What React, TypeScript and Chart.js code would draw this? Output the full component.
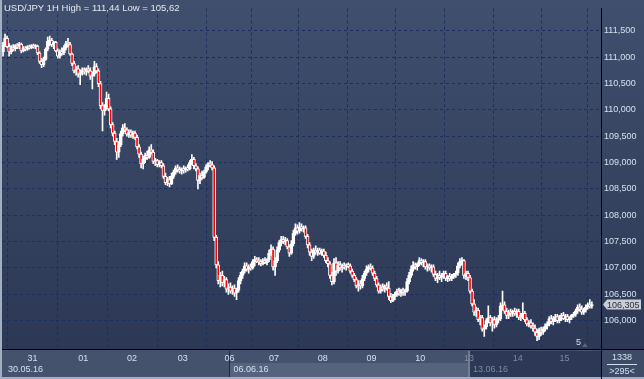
import React, { useEffect, useRef } from 'react';
import { Chart, registerables } from 'chart.js';

Chart.register(...registerables);

const TITLE = 'USD/JPY 1H High = 111,44 Low = 105,62';
const dayLabels = ['31', '01', '02', '03', '06', '07', '08', '09', '10', '13', '14', '15'];
const dayStartIdx = [15, 40, 64, 89, 112, 134, 158, 182, 206, 230, 254, 277];
const weekLabels = ['30.05.16', '06.06.16', '13.06.16'];
const weekStartIdx = [0, 112, 230];
const yTicks = [106, 106.5, 107, 107.5, 108, 108.5, 109, 109.5, 110, 110.5, 111, 111.5];
const visibleBars = 295;
const barCountText = '1338';
const visibleText = '>295<';
const markerText = '5';
const lastPrice = 106.305;

// [open, high, low, close] per hourly bar
const candles: number[][] = [
  // 30.05
  [111.10, 111.28, 111.02, 111.24], [111.24, 111.44, 111.20, 111.36], [111.36, 111.40, 111.18, 111.20],
  [111.20, 111.26, 111.02, 111.10], [111.10, 111.22, 111.06, 111.18], [111.18, 111.24, 111.12, 111.16],
  [111.16, 111.24, 111.12, 111.22], [111.22, 111.26, 111.16, 111.20], [111.20, 111.28, 111.16, 111.25],
  [111.25, 111.27, 111.08, 111.12], [111.12, 111.20, 111.10, 111.17], [111.17, 111.20, 111.12, 111.15],
  [111.15, 111.22, 111.13, 111.20], [111.20, 111.23, 111.15, 111.18], [111.18, 111.24, 111.16, 111.22],
  // 31
  [111.22, 111.25, 111.17, 111.20], [111.20, 111.24, 111.16, 111.21], [111.21, 111.23, 111.05, 111.08],
  [111.08, 111.10, 110.88, 110.92], [110.92, 110.98, 110.80, 110.86], [110.86, 111.00, 110.82, 110.96],
  [110.96, 111.18, 110.94, 111.15], [111.15, 111.38, 111.12, 111.30], [111.30, 111.40, 111.22, 111.32],
  [111.32, 111.36, 111.20, 111.24], [111.24, 111.30, 111.16, 111.28], [111.28, 111.30, 111.10, 111.12],
  [111.12, 111.16, 110.98, 111.02], [111.02, 111.14, 110.98, 111.10], [111.10, 111.18, 111.04, 111.08],
  [111.08, 111.22, 111.05, 111.18], [111.18, 111.30, 111.14, 111.26], [111.26, 111.36, 111.20, 111.24],
  [111.24, 111.28, 111.04, 111.06], [111.06, 111.08, 110.84, 110.88], [110.88, 110.92, 110.70, 110.74],
  [110.74, 110.82, 110.66, 110.78], [110.78, 110.84, 110.62, 110.68], [110.68, 110.76, 110.48, 110.72],
  [110.72, 110.80, 110.66, 110.76],
  // 01
  [110.76, 110.80, 110.68, 110.72], [110.72, 110.80, 110.66, 110.78], [110.78, 110.84, 110.70, 110.74],
  [110.74, 110.80, 110.58, 110.64], [110.64, 110.72, 110.40, 110.68], [110.68, 110.92, 110.64, 110.82],
  [110.82, 110.88, 110.70, 110.74], [110.74, 110.78, 110.44, 110.50], [110.50, 110.54, 110.02, 110.08],
  [110.08, 110.14, 109.60, 109.98], [109.98, 110.10, 109.90, 110.04], [110.04, 110.34, 110.00, 110.22],
  [110.22, 110.30, 109.98, 110.02], [110.02, 110.06, 109.66, 109.72], [109.72, 109.76, 109.50, 109.56],
  [109.56, 109.60, 109.34, 109.40], [109.40, 109.46, 109.06, 109.20], [109.20, 109.40, 109.10, 109.34],
  [109.34, 109.60, 109.30, 109.55], [109.55, 109.72, 109.50, 109.66], [109.66, 109.74, 109.58, 109.62],
  [109.62, 109.66, 109.50, 109.54], [109.54, 109.62, 109.48, 109.58], [109.58, 109.62, 109.48, 109.52],
  // 02
  [109.52, 109.60, 109.46, 109.56], [109.56, 109.60, 109.44, 109.48], [109.48, 109.52, 109.26, 109.30],
  [109.30, 109.34, 109.10, 109.16], [109.16, 109.20, 108.90, 108.98], [108.98, 109.12, 108.88, 109.06],
  [109.06, 109.18, 109.00, 109.14], [109.14, 109.22, 109.06, 109.10], [109.10, 109.30, 109.08, 109.24],
  [109.24, 109.34, 109.16, 109.20], [109.20, 109.24, 108.98, 109.02], [109.02, 109.08, 108.94, 109.04],
  [109.04, 109.06, 108.92, 108.96], [108.96, 109.04, 108.92, 109.00], [109.00, 109.04, 108.90, 108.94],
  [108.94, 108.98, 108.70, 108.74], [108.74, 108.80, 108.58, 108.62], [108.62, 108.72, 108.56, 108.68],
  [108.68, 108.74, 108.54, 108.60], [108.60, 108.80, 108.58, 108.74], [108.74, 108.86, 108.70, 108.82],
  [108.82, 108.94, 108.78, 108.90], [108.90, 108.96, 108.82, 108.86], [108.86, 108.92, 108.80, 108.84],
  [108.84, 108.90, 108.78, 108.88],
  // 03
  [108.88, 108.94, 108.80, 108.86], [108.86, 108.92, 108.82, 108.90], [108.90, 108.96, 108.84, 108.88],
  [108.88, 109.04, 108.86, 109.00], [109.00, 109.15, 108.96, 109.06], [109.06, 109.10, 108.88, 108.94],
  [108.94, 108.98, 108.84, 108.88], [108.88, 108.92, 108.50, 108.66], [108.66, 108.80, 108.60, 108.76],
  [108.76, 108.84, 108.68, 108.72], [108.72, 108.86, 108.70, 108.82], [108.82, 108.96, 108.80, 108.92],
  [108.92, 109.00, 108.86, 108.98], [108.98, 109.04, 108.92, 108.96], [108.96, 109.02, 108.86, 108.90],
  [108.90, 108.94, 107.52, 107.58], [107.58, 107.62, 107.00, 107.06], [107.06, 107.12, 106.70, 106.76],
  [106.76, 106.92, 106.64, 106.86], [106.86, 106.94, 106.66, 106.72], [106.72, 106.84, 106.64, 106.78],
  [106.78, 106.82, 106.54, 106.60], [106.60, 106.70, 106.50, 106.64],
  // 06
  [106.64, 106.72, 106.52, 106.56], [106.56, 106.66, 106.50, 106.62], [106.62, 106.68, 106.46, 106.52],
  [106.52, 106.62, 106.40, 106.58], [106.58, 106.82, 106.54, 106.76], [106.76, 106.92, 106.70, 106.86],
  [106.86, 106.98, 106.80, 106.94], [106.94, 107.10, 106.90, 107.04], [107.04, 107.10, 106.94, 106.98],
  [106.98, 107.06, 106.90, 107.02], [107.02, 107.08, 106.96, 107.00], [107.00, 107.16, 106.98, 107.12],
  [107.12, 107.22, 107.04, 107.16], [107.16, 107.20, 107.10, 107.14], [107.14, 107.20, 107.06, 107.12],
  [107.12, 107.16, 107.04, 107.08], [107.08, 107.18, 107.06, 107.14], [107.14, 107.20, 107.08, 107.10],
  [107.10, 107.18, 107.06, 107.16], [107.16, 107.34, 107.12, 107.28], [107.28, 107.44, 107.24, 107.36],
  [107.36, 107.40, 106.96, 107.02],
  // 07
  [107.02, 107.20, 106.86, 107.14], [107.14, 107.40, 107.10, 107.34], [107.34, 107.52, 107.30, 107.48],
  [107.48, 107.60, 107.42, 107.54], [107.54, 107.60, 107.46, 107.50], [107.50, 107.58, 107.44, 107.52],
  [107.52, 107.56, 107.36, 107.40], [107.40, 107.44, 107.22, 107.28], [107.28, 107.52, 107.26, 107.46],
  [107.46, 107.72, 107.42, 107.66], [107.66, 107.84, 107.62, 107.76], [107.76, 107.82, 107.64, 107.70],
  [107.70, 107.86, 107.66, 107.78], [107.78, 107.84, 107.70, 107.74], [107.74, 107.80, 107.68, 107.76],
  [107.76, 107.80, 107.56, 107.60], [107.60, 107.64, 107.38, 107.44], [107.44, 107.48, 107.24, 107.30],
  [107.30, 107.36, 107.14, 107.22], [107.22, 107.38, 107.18, 107.34], [107.34, 107.42, 107.26, 107.30],
  [107.30, 107.38, 107.24, 107.34], [107.34, 107.38, 107.26, 107.28], [107.28, 107.36, 107.24, 107.32],
  // 08
  [107.32, 107.36, 107.20, 107.24], [107.24, 107.30, 107.10, 107.14], [107.14, 107.20, 107.02, 107.08],
  [107.08, 107.12, 106.80, 106.86], [106.86, 106.92, 106.68, 106.74], [106.74, 107.18, 106.70, 107.10],
  [107.10, 107.20, 106.86, 106.94], [106.94, 107.12, 106.90, 107.06], [107.06, 107.12, 106.96, 107.00],
  [107.00, 107.08, 106.92, 107.04], [107.04, 107.10, 106.98, 107.02], [107.02, 107.08, 106.96, 107.06],
  [107.06, 107.10, 107.00, 107.04], [107.04, 107.08, 106.90, 106.94], [106.94, 106.98, 106.82, 106.86],
  [106.86, 106.90, 106.74, 106.78], [106.78, 106.82, 106.62, 106.66], [106.66, 106.76, 106.56, 106.70],
  [106.70, 106.76, 106.60, 106.66], [106.66, 106.86, 106.62, 106.80], [106.80, 106.94, 106.76, 106.90],
  [106.90, 107.04, 106.86, 106.98], [106.98, 107.06, 106.92, 107.02], [107.02, 107.08, 106.96, 107.00],
  // 09
  [107.00, 107.04, 106.86, 106.90], [106.90, 106.94, 106.76, 106.80], [106.80, 106.84, 106.64, 106.68],
  [106.68, 106.72, 106.52, 106.56], [106.56, 106.68, 106.52, 106.64], [106.64, 106.70, 106.56, 106.60],
  [106.60, 106.68, 106.54, 106.66], [106.66, 106.72, 106.58, 106.62], [106.62, 106.74, 106.40, 106.46],
  [106.46, 106.52, 106.34, 106.38], [106.38, 106.50, 106.36, 106.46], [106.46, 106.54, 106.40, 106.50],
  [106.50, 106.60, 106.46, 106.56], [106.56, 106.62, 106.48, 106.52], [106.52, 106.60, 106.46, 106.58],
  [106.58, 106.62, 106.48, 106.54], [106.54, 106.60, 106.48, 106.56], [106.56, 106.80, 106.54, 106.74],
  [106.74, 106.92, 106.70, 106.86], [106.86, 107.04, 106.82, 106.98], [106.98, 107.12, 106.94, 107.06],
  [107.06, 107.10, 106.98, 107.02], [107.02, 107.10, 106.96, 107.08], [107.08, 107.20, 107.04, 107.14],
  // 10
  [107.14, 107.18, 107.06, 107.10], [107.10, 107.16, 107.02, 107.12], [107.12, 107.16, 106.98, 107.02],
  [107.02, 107.08, 106.94, 107.04], [107.04, 107.08, 106.96, 107.00], [107.00, 107.06, 106.92, 107.02],
  [107.02, 107.06, 106.84, 106.88], [106.88, 106.94, 106.76, 106.80], [106.80, 106.90, 106.72, 106.86],
  [106.86, 106.94, 106.78, 106.82], [106.82, 106.90, 106.74, 106.86], [106.86, 106.94, 106.80, 106.90],
  [106.90, 106.94, 106.76, 106.80], [106.80, 106.86, 106.74, 106.84], [106.84, 106.90, 106.76, 106.80],
  [106.80, 106.88, 106.76, 106.84], [106.84, 106.90, 106.80, 106.88], [106.88, 106.94, 106.82, 106.90],
  [106.90, 107.10, 106.86, 107.04], [107.04, 107.18, 107.00, 107.12], [107.12, 107.20, 107.06, 107.14],
  [107.14, 107.16, 106.80, 106.86], [106.86, 106.94, 106.78, 106.90], [106.90, 106.94, 106.76, 106.82],
  // 13
  [106.82, 106.86, 106.52, 106.56], [106.56, 106.60, 106.28, 106.32], [106.32, 106.40, 106.10, 106.16],
  [106.16, 106.26, 106.08, 106.20], [106.20, 106.24, 105.98, 106.02], [106.02, 106.10, 105.92, 106.06],
  [106.06, 106.10, 105.80, 105.84], [105.84, 105.92, 105.70, 105.88], [105.88, 106.04, 105.84, 106.00],
  [106.00, 106.28, 105.96, 106.06], [106.06, 106.10, 105.90, 105.96], [105.96, 106.06, 105.80, 106.02],
  [106.02, 106.08, 105.86, 105.92], [105.92, 106.06, 105.88, 106.02], [106.02, 106.10, 105.96, 106.04],
  [106.04, 106.34, 106.00, 106.28], [106.28, 106.56, 106.20, 106.30], [106.30, 106.36, 106.14, 106.18],
  [106.18, 106.24, 106.04, 106.10], [106.10, 106.20, 106.04, 106.16], [106.16, 106.22, 106.08, 106.14],
  [106.14, 106.20, 106.08, 106.18], [106.18, 106.24, 106.10, 106.14], [106.14, 106.22, 106.06, 106.18],
  // 14
  [106.18, 106.22, 106.02, 106.06], [106.06, 106.14, 106.00, 106.10], [106.10, 106.34, 106.04, 106.14],
  [106.14, 106.18, 105.98, 106.02], [106.02, 106.06, 105.90, 105.94], [105.94, 106.00, 105.88, 105.96],
  [105.96, 106.02, 105.86, 105.90], [105.90, 105.96, 105.80, 105.86], [105.86, 105.92, 105.72, 105.78],
  [105.78, 105.84, 105.62, 105.70], [105.70, 105.86, 105.64, 105.82], [105.82, 105.88, 105.72, 105.78],
  [105.78, 105.88, 105.74, 105.84], [105.84, 105.94, 105.80, 105.90], [105.90, 105.98, 105.84, 105.94],
  [105.94, 106.08, 105.90, 106.04], [106.04, 106.10, 105.94, 105.98], [105.98, 106.08, 105.92, 106.04],
  [106.04, 106.12, 105.98, 106.08], [106.08, 106.12, 105.96, 106.00], [106.00, 106.10, 105.96, 106.06],
  [106.06, 106.14, 106.00, 106.10], [106.10, 106.16, 106.02, 106.04],
  // 15
  [106.04, 106.12, 105.98, 106.08], [106.08, 106.12, 105.98, 106.02], [106.02, 106.08, 105.96, 106.06],
  [106.06, 106.12, 106.02, 106.10], [106.10, 106.16, 106.06, 106.12], [106.12, 106.22, 106.08, 106.18],
  [106.18, 106.30, 106.14, 106.26], [106.26, 106.32, 106.18, 106.22], [106.22, 106.28, 106.12, 106.16],
  [106.16, 106.24, 106.12, 106.20], [106.20, 106.30, 106.16, 106.26], [106.26, 106.34, 106.22, 106.30],
  [106.30, 106.40, 106.24, 106.28], [106.28, 106.36, 106.24, 106.305],
];

const FONT = '"Liberation Sans", Arial, sans-serif';
const TEXT = '#d4e0ee';
const DIM = '#7d8aa3';
const RED = '#ff0000';

const decorPlugin = {
  id: 'decor',
  beforeDraw(chart: any) {
    const { ctx, chartArea: a, width, height } = chart;
    const xs = chart.scales.x;
    ctx.save();
    ctx.fillStyle = '#a3aebf';
    ctx.fillRect(0, 0, width, height);
    const g = ctx.createLinearGradient(0, 0, 0, a.bottom);
    g.addColorStop(0, '#404f6e');
    g.addColorStop(1, '#2c3855');
    ctx.fillStyle = g;
    ctx.fillRect(a.left, 0, width - a.left, a.bottom);
    // bottom axis band
    ctx.fillStyle = '#44526e';
    ctx.fillRect(a.left, a.bottom, width - a.left, height - 2 - a.bottom);
    ctx.fillStyle = '#3e4b67';
    ctx.fillRect(a.right, a.bottom, width - a.right, height - 2 - a.bottom);
    // week 2 box
    const w2 = xs.getPixelForValue(weekStartIdx[1] - 0.5);
    const w3 = xs.getPixelForValue(weekStartIdx[2] - 0.5);
    ctx.fillStyle = '#55637e';
    ctx.fillRect(w2, 363, w3 - w2, 14);
    ctx.fillStyle = '#1f2b48';
    ctx.fillRect(Math.round(w2), 351, 1, 26);
    // current week dark region
    ctx.fillStyle = '#2c3855';
    ctx.fillRect(w3, 351, a.right - w3, 26);
    ctx.fillStyle = '#6f7c93';
    ctx.fillRect(Math.round(w3) - 1, 351, 2, 26);
    ctx.restore();
  },
  afterDraw(chart: any) {
    const { ctx, chartArea: a, width, height } = chart;
    const xs = chart.scales.x;
    const ys = chart.scales.y;
    ctx.save();
    ctx.textBaseline = 'middle';
    // title
    ctx.font = `9.5px ${FONT}`;
    ctx.fillStyle = '#e4e8ee';
    ctx.textAlign = 'left';
    ctx.fillText(TITLE, 4, 8);
    // week labels
    ctx.font = `9px ${FONT}`;
    weekLabels.forEach((lab, i) => {
      const px = i === 0 ? 8 : xs.getPixelForValue(weekStartIdx[i] - 0.5) + 4;
      ctx.fillStyle = i === 2 ? DIM : TEXT;
      ctx.fillText(lab, px, 370);
    });
    // marker "5"
    ctx.fillStyle = TEXT;
    ctx.fillText(markerText, 576, 343);
    ctx.fillStyle = '#5a6680';
    ctx.beginPath();
    ctx.moveTo(582, 347);
    ctx.lineTo(585, 343);
    ctx.lineTo(588, 347);
    ctx.closePath();
    ctx.fill();
    // corner counters
    ctx.fillStyle = TEXT;
    ctx.textAlign = 'center';
    ctx.fillText(barCountText, 622, 358);
    ctx.fillText(visibleText, 622, 372);
    ctx.fillRect(607, 364, 30, 1);
    // axis lines extension
    ctx.fillStyle = '#000000';
    ctx.fillRect(a.right, a.bottom, width - a.right, 1);
    ctx.fillRect(a.right, a.bottom, 1, height - a.bottom);
    // price marker
    const py = ys.getPixelForValue(lastPrice);
    ctx.fillStyle = '#c9cdd5';
    ctx.beginPath();
    ctx.moveTo(603, py);
    ctx.lineTo(607, py - 5);
    ctx.lineTo(641, py - 5);
    ctx.lineTo(641, py + 5);
    ctx.lineTo(607, py + 5);
    ctx.closePath();
    ctx.fill();
    ctx.fillStyle = '#28303f';
    ctx.textAlign = 'left';
    ctx.fillText(lastPrice.toFixed(3).replace('.', ','), 607, py + 0.5);
    ctx.restore();
  },
};

export default function App() {
  const ref = useRef<HTMLCanvasElement>(null);
  useEffect(() => {
    document.body.style.margin = '0';
    const canvas = ref.current;
    if (!canvas) return;
    const wicks = candles.map((c, i) => ({ x: i, y: [c[2], c[1]] }));
    const bodies = candles.map((c, i) => ({ x: i, y: [c[0], c[3]] }));
    const chart = new Chart(canvas, {
      type: 'bar',
      data: {
        datasets: [
          {
            data: wicks as any,
            backgroundColor: '#ffffff',
            borderWidth: 0,
            barThickness: 1,
            grouped: false,
            order: 2,
          } as any,
          {
            data: bodies as any,
            backgroundColor: candles.map((c) => (c[3] < c[0] ? RED : '#ffffff')),
            borderColor: '#ffffff',
            borderWidth: 1,
            borderSkipped: false,
            barThickness: 3,
            minBarLength: 1,
            grouped: false,
            order: 1,
          } as any,
        ],
      },
      options: {
        animation: false,
        responsive: false,
        devicePixelRatio: 1,
        layout: { padding: { left: 2, top: 0, right: 0, bottom: 0 } },
        plugins: { legend: { display: false }, tooltip: { enabled: false } },
        events: [],
        scales: {
          x: {
            type: 'linear',
            position: 'bottom',
            offset: false,
            min: -0.5,
            max: visibleBars - 0.5,
            afterBuildTicks: (s: any) => {
              s.ticks = dayStartIdx.map((v) => ({ value: v - 0.5 }));
            },
            afterFit: (s: any) => {
              s.height = 30;
            },
            ticks: {
              autoSkip: false,
              maxRotation: 0,
              padding: 4,
              color: (c: any) => (c.index >= 9 ? DIM : TEXT),
              font: { family: FONT, size: 9 },
              callback: (_v: any, i: number) => dayLabels[i],
            },
            grid: { color: '#1a2f5c', lineWidth: 1, drawTicks: false },
            border: { display: true, color: '#000000', width: 1, dash: [3, 3] },
          },
          y: {
            type: 'linear',
            position: 'right',
            min: 106 - 29 / 54,
            max: 111.5 + 23 / 54,
            afterBuildTicks: (s: any) => {
              s.ticks = yTicks.map((v) => ({ value: v }));
            },
            afterFit: (s: any) => {
              s.width = 43;
            },
            ticks: {
              autoSkip: false,
              padding: 3,
              color: TEXT,
              font: { family: FONT, size: 9 },
              callback: (v: any) => Number(v).toFixed(3).replace('.', ','),
            },
            grid: { color: '#1a2f5c', lineWidth: 1, drawTicks: false },
            border: { display: true, color: '#000000', width: 1, dash: [3, 3] },
          },
        },
      } as any,
      plugins: [decorPlugin],
    });
    return () => chart.destroy();
  }, []);
  return <canvas ref={ref} width={644} height={379} style={{ display: 'block' }} />;
}
